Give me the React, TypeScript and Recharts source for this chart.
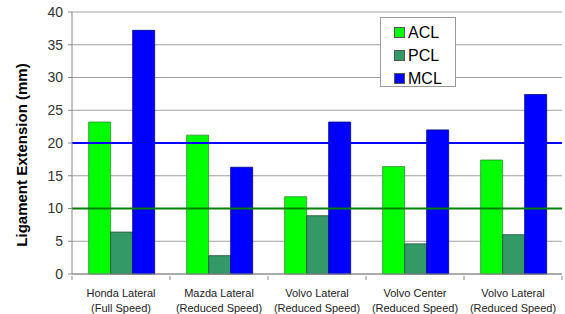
import React from "react";
import {
  BarChart,
  Bar,
  XAxis,
  YAxis,
  CartesianGrid,
  ReferenceLine,
} from "recharts";

// crash test scenarios, two label lines each
const scenarios = [
  ["Honda Lateral", "(Full Speed)"],
  ["Mazda Lateral", "(Reduced Speed)"],
  ["Volvo Lateral", "(Reduced Speed)"],
  ["Volvo Center", "(Reduced Speed)"],
  ["Volvo Lateral", "(Reduced Speed)"],
];

const acl = [23.2, 21.2, 11.8, 16.4, 17.4];
const pcl = [6.4, 2.8, 8.9, 4.6, 6.0];
const mcl = [37.2, 16.3, 23.2, 22.0, 27.4];

const yTicks = [0, 5, 10, 15, 20, 25, 30, 35, 40];

// threshold lines drawn across the plot
const thresholds = [
  { value: 20, color: "#0000ff" },
  { value: 10, color: "#008000" },
];

const series = [
  { key: "ACL", fill: "#00ff00", stroke: "#2e8b2e" },
  { key: "PCL", fill: "#339966", stroke: "#1f4f35" },
  { key: "MCL", fill: "#0000ff", stroke: "#00008b" },
];

const data = scenarios.map((s, i) => ({
  name: s[0] + "|" + s[1],
  ACL: acl[i],
  PCL: pcl[i],
  MCL: mcl[i],
}));

const font = "'Liberation Sans', Arial, sans-serif";

const CategoryTick = (props: any) => {
  const { x, y, payload, index } = props;
  const lines = String(payload.value).split("|");
  const half = payload.offset || 0;
  const axisY = y - 4;
  return (
    <g>
      <line x1={x - half} x2={x - half} y1={axisY} y2={axisY + 4} stroke="#888" />
      {index === scenarios.length - 1 && (
        <line x1={x + half} x2={x + half} y1={axisY} y2={axisY + 4} stroke="#888" />
      )}
      <text x={x} y={y} textAnchor="middle" fontSize={11} fill="#222" fontFamily={font}>
        <tspan x={x} dy={17}>{lines[0]}</tspan>
        <tspan x={x} dy={15}>{lines[1]}</tspan>
      </text>
    </g>
  );
};

const LegendBox = () => (
  <div
    style={{
      position: "absolute",
      left: 380,
      top: 17,
      width: 76,
      height: 70,
      border: "1px solid #999",
      background: "#fff",
      boxSizing: "border-box",
      padding: "3px 0 0 13px",
      fontFamily: font,
      fontSize: 16,
      color: "#000",
    }}
  >
    {series.map((s) => (
      <div key={s.key} style={{ display: "flex", alignItems: "center", height: 23 }}>
        <span
          style={{
            display: "inline-block",
            width: 11,
            height: 11,
            background: s.fill,
            border: "1px solid #555",
            boxSizing: "border-box",
            marginRight: 3,
          }}
        />
        {s.key}
      </div>
    ))}
  </div>
);

const App: React.FC = () => {
  return (
    <div style={{ position: "absolute", left: 0, top: 0, width: 565, height: 314, background: "#fff" }}>
      <BarChart
        width={565}
        height={314}
        data={data}
        margin={{ top: 12, right: 3, left: 0, bottom: 0 }}
        barCategoryGap="17%"
        barGap={0}
      >
        <CartesianGrid vertical={false} stroke="#a0a0a0" />
        <XAxis
          dataKey="name"
          height={40}
          axisLine={{ stroke: "#888" }}
          tickLine={false}
          tickSize={4}
          tick={<CategoryTick />}
          interval={0}
        />
        <YAxis
          width={72}
          domain={[0, 40]}
          ticks={yTicks}
          interval={0}
          axisLine={{ stroke: "#888" }}
          tickLine={{ stroke: "#888" }}
          tickSize={4}
          tickMargin={5}
          tick={{ fontSize: 14, fill: "#333", fontFamily: font }}
          label={{
            value: "Ligament Extension (mm)",
            angle: -90,
            position: "insideLeft",
            dx: 17,
            dy: 12,
            style: {
              textAnchor: "middle",
              fontSize: 15,
              fontWeight: "bold",
              fill: "#000",
              fontFamily: font,
            },
          }}
        />
        <Bar dataKey="ACL" fill={series[0].fill} stroke={series[0].stroke} strokeWidth={0.8} isAnimationActive={false} />
        <Bar dataKey="PCL" fill={series[1].fill} stroke={series[1].stroke} strokeWidth={0.8} isAnimationActive={false} />
        <Bar dataKey="MCL" fill={series[2].fill} stroke={series[2].stroke} strokeWidth={0.8} isAnimationActive={false} />
        {thresholds.map((t) => (
          <ReferenceLine key={t.value} y={t.value} stroke={t.color} strokeWidth={2} />
        ))}
      </BarChart>
      <LegendBox />
    </div>
  );
};

export default App;
